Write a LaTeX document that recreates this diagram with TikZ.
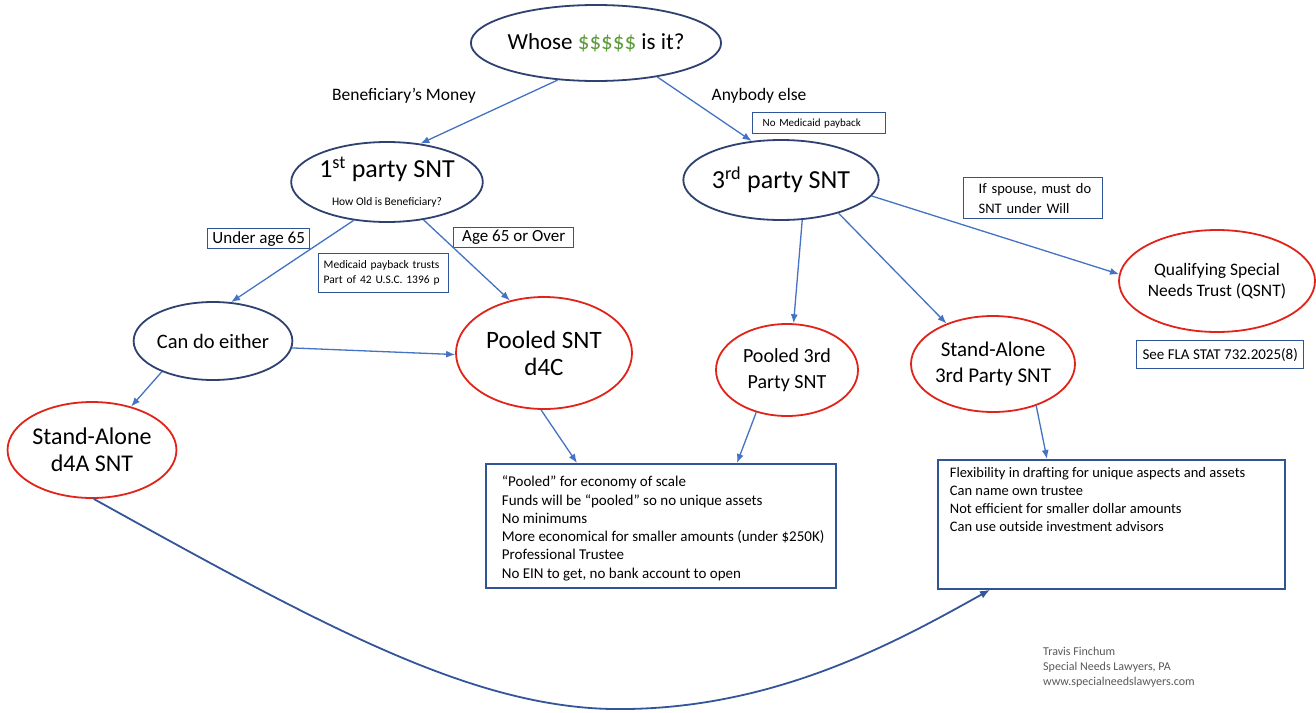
\documentclass[tikz,border=0pt]{standalone}
\usepackage{fontspec}
\setmainfont{Carlito}
\usetikzlibrary{shapes.geometric,arrows.meta}
\definecolor{navy}{HTML}{2E4170}
\definecolor{boxblue}{HTML}{2F5597}
\definecolor{arrowblue}{HTML}{4472C4}
\definecolor{curveblue}{HTML}{34559A}
\definecolor{redline}{HTML}{E2231A}
\definecolor{money}{HTML}{5B9B3A}
\definecolor{credit}{HTML}{595959}
\begin{document}
\begin{tikzpicture}[x=1pt,y=-1pt,
  q/.style={ellipse, draw=navy, line width=1.8pt, inner sep=0, align=center},
  r/.style={ellipse, draw=redline, line width=1.8pt, inner sep=0, align=center},
  lbl/.style={draw=boxblue, line width=1.4pt, inner sep=0, align=center, anchor=north west},
  bigbox/.style={draw=boxblue, line width=1.8pt, inner sep=0, anchor=north west},
  conn/.style={draw=arrowblue, line width=1.3pt, -{Latex[length=9pt,width=7pt]}},
  curve/.style={draw=curveblue, line width=1.8pt, -{Latex[length=10pt,width=8pt]}},
  plain/.style={inner sep=0}
]
\fill[white] (0,0) rectangle (1316,712);
\useasboundingbox (0,0) rectangle (1316,712);

\node[q, minimum width=206, minimum height=76, font=\fontsize{23}{26}\selectfont] (top) at (596,43)
  {Whose \textcolor{money}{\$\$\$\$\$} is it?};

\node[plain, font=\fontsize{17.5}{20}\selectfont] (bm) at (404,96) {Beneficiary’s Money};
\node[plain, font=\fontsize{17.5}{20}\selectfont] (ae) at (759,96) {Anybody else};

\node[lbl, minimum width=133, minimum height=21, text width=119, inner xsep=7, align=left,
  font=\fontsize{11}{13}\selectfont] (nmp) at (752,112) {\hspace*{3pt}No Medicaid payback};

\node[q, minimum width=172, minimum height=80, font=\fontsize{26}{28}\selectfont] (first) at (387,182)
  {1\textsuperscript{st} party SNT\\[0pt]{\fontsize{11.5}{13}\selectfont How Old is Beneficiary?}};

\node[q, minimum width=158, minimum height=80, font=\fontsize{26}{28}\selectfont] (third) at (781,180)
  {3\textsuperscript{rd} party SNT};

\node[lbl, minimum width=139, minimum height=41, text width=127, inner xsep=6, align=left,
  font=\fontsize{14.5}{20}\selectfont] (spouse) at (963,177) {\hspace*{9pt}If spouse, must do\\\hspace*{9pt}SNT under Will};

\node[lbl, minimum width=102, minimum height=20, font=\fontsize{17}{19}\selectfont] (under) at (207,228) {Under age 65};
\node[lbl, minimum width=120, minimum height=20, font=\fontsize{17}{19}\selectfont] (over) at (453,227) {Age 65 or Over};
\node[lbl, minimum width=130, minimum height=39, text width=124, inner xsep=3, align=left,
  font=\fontsize{11.5}{15}\selectfont] (mpt) at (318,253) {\hspace*{2pt}Medicaid payback trusts\\\hspace*{2pt}Part of 42 U.S.C. 1396 p};

\node[q, minimum width=136, minimum height=78, font=\fontsize{20.5}{23}\selectfont] (either) at (213,341)
  {Can do either};

\node[r, minimum width=176, minimum height=112, font=\fontsize{25}{27}\selectfont] (pooled) at (544,353)
  {Pooled SNT\\d4C};
\node[r, minimum width=168, minimum height=96, font=\fontsize{24}{27}\selectfont] (d4a) at (92,450)
  {Stand-Alone\\d4A SNT};
\node[r, minimum width=142, minimum height=92, font=\fontsize{20}{26}\selectfont] (pooled3) at (787,370)
  {Pooled 3rd\\Party SNT};
\node[r, minimum width=156, minimum height=96, font=\fontsize{21}{26}\selectfont] (sa3) at (993,364)
  {Stand-Alone\\3rd Party SNT};
\node[r, minimum width=196, minimum height=102, font=\fontsize{17.5}{21}\selectfont] (qsnt) at (1217,281)
  {Qualifying Special\\Needs Trust (QSNT)};
\node[lbl, minimum width=167, minimum height=28, font=\fontsize{15}{17}\selectfont] (fla) at (1136,340)
  {See FLA STAT 732.2025(8)};

\node[bigbox] (pbox) at (485,463) {\parbox[t][124pt][t]{350pt}{\fontsize{15}{18.3}\selectfont\raggedright\leftskip=16pt
  \vspace*{12pt}“Pooled” for economy of scale\\
  Funds will be “pooled” so no unique assets\\
  No minimums\\
  More economical for smaller amounts (under \$250K)\\
  Professional Trustee\\
  No EIN to get, no bank account to open}};

\node[bigbox] (rbox) at (937,459) {\parbox[t][129pt][t]{347pt}{\fontsize{14.5}{18}\selectfont\raggedright\leftskip=12pt
  \vspace*{8pt}Flexibility in drafting for unique aspects and assets\\
  Can name own trustee\\
  Not efficient for smaller dollar amounts\\
  Can use outside investment advisors}};

\node[plain, anchor=north west, align=left, text=credit, font=\fontsize{12}{15}\selectfont] (credit) at (1043,647)
  {Travis Finchum\\Special Needs Lawyers, PA\\www.specialneedslawyers.com};

\draw[conn] (top.224) -- (first.49);
\draw[conn] (top.331) -- (third.127);
\draw[conn] (first.229) -- (either.65);
\draw[conn] (first.314) -- (pooled.123);
\draw[conn] (either.355) -- (pooled.181);
\draw[conn] (either.211) -- (d4a.48);
\draw[conn] (third.298) -- (pooled3.82);
\draw[conn] (third.330) -- (sa3.139);
\draw[conn] (third.350) -- (qsnt.176);
\draw[conn] (pooled.267) -- ([xshift=92pt]pbox.north west);
\draw[conn] (pooled3.234) -- ([xshift=252pt]pbox.north west);
\draw[conn] (sa3.316) -- ([xshift=110pt]rbox.north west);
\draw[curve] (d4a.272) .. controls (330,630) and (480,712) .. (627,709)
  .. controls (780,707) and (900,640) .. ([xshift=53pt]rbox.south west);
\end{tikzpicture}
\end{document}
